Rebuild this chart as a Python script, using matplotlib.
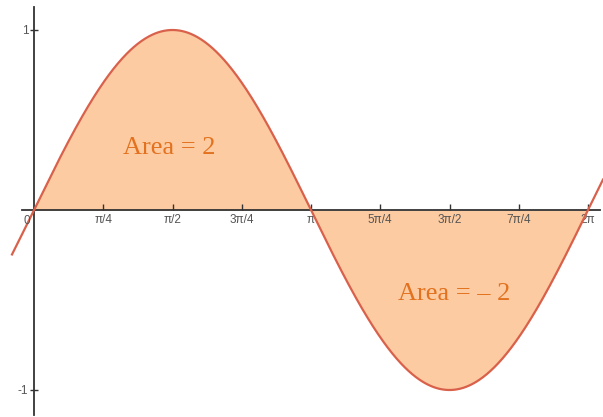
import numpy as np
import matplotlib
matplotlib.use("Agg")
import matplotlib.pyplot as plt

x_tick_vals = [np.pi/4*k for k in range(1, 9)]
x_tick_labels = ["π/4", "π/2", "3π/4", "π", "5π/4", "3π/2", "7π/4", "2π"]
y_tick_vals = [-1, 1]
y_tick_labels = ["-1", "1"]
area_labels = ["Area = 2", "Area = – 2"]
area_positions = [(1.53, 0.345), (4.76, -0.467)]

plt.rcParams["font.family"] = ["Liberation Sans", "DejaVu Sans"]

fig = plt.figure(figsize=(6.03, 4.17), dpi=100)
ax = fig.add_axes([0, 0, 1, 1])
xmin, xmax = -34/277*np.pi, 569/277*np.pi
ymin, ymax = -207/180, 210/180
ax.set_xlim(xmin, xmax)
ax.set_ylim(ymin, ymax)

xf = np.linspace(0, 2*np.pi, 600)
ax.fill_between(xf, np.sin(xf), 0, color="#fdcba1", lw=0, zorder=1)
xc = np.linspace(-22/277*np.pi, xmax, 800)
ax.plot(xc, np.sin(xc), color="#d9614b", lw=1.6, zorder=3)

for s in ["top", "right"]:
    ax.spines[s].set_visible(False)
ax.spines["left"].set_position(("data", 0))
ax.spines["bottom"].set_position(("data", 0))
ax.spines["left"].set_bounds(ymin + 2/180, ymax - 7/180)
ax.spines["bottom"].set_bounds(xmin + 22/277*np.pi, xmax - 3/277*np.pi)
for s in ["left", "bottom"]:
    ax.spines[s].set_color("#333333")
    ax.spines[s].set_linewidth(1.3)
    ax.spines[s].set_zorder(2)

ax.set_xticks(x_tick_vals)
ax.set_xticklabels(x_tick_labels)
ax.set_yticks(y_tick_vals)
ax.set_yticklabels(y_tick_labels)
ax.tick_params(axis="x", direction="in", length=4, width=1, color="#333333",
               labelsize=8.5, labelcolor="#555555", pad=3)
ax.tick_params(axis="y", direction="inout", length=6, width=1, color="#333333",
               labelsize=8.5, labelcolor="#555555", pad=1)
ax.text(-0.04, -0.03, "0", ha="right", va="top", fontsize=8.5, color="#555555")

for lab, (px, py) in zip(area_labels, area_positions):
    ax.text(px, py, lab, ha="center", va="center", fontsize=19,
            family="Liberation Serif", color="#e2721f", zorder=4)

fig.savefig("out.png", dpi=100)
